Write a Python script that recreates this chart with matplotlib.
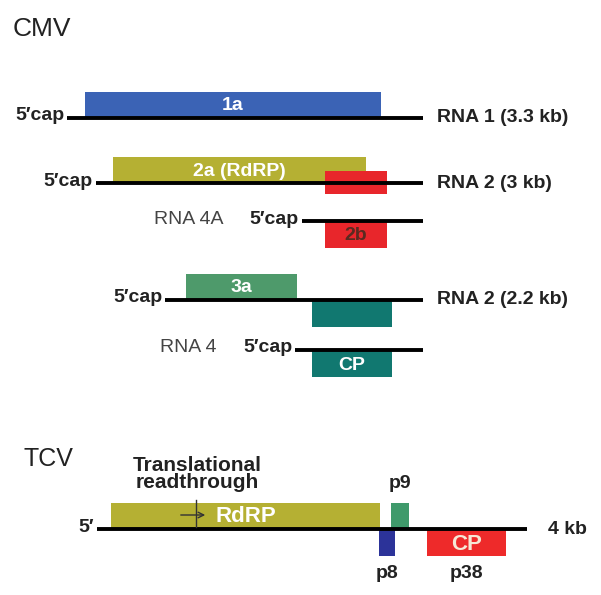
import matplotlib.pyplot as plt
from matplotlib.patches import Rectangle

plt.rcParams['font.family'] = ['Liberation Sans', 'DejaVu Sans']

# CMV genomic / subgenomic RNAs
rna_names = ['RNA 1 (3.3 kb)', 'RNA 2 (3 kb)', 'RNA 4A', 'RNA 2 (2.2 kb)', 'RNA 4']
rna_start = [67, 96, 302, 165, 295]
rna_end = [423, 423, 423, 423, 423]

# CMV ORFs (row index into the RNAs, start, end, frame: 1 above, 0 across, -1 below)
orf_names = ['1a', '2a (RdRP)', '', '2b', '3a', '', 'CP']
orf_rna = [0, 1, 1, 2, 3, 3, 4]
orf_start = [85, 113, 325, 325, 186, 312, 312]
orf_end = [381, 366, 387, 387, 297, 392, 392]
orf_frame = [1, 1, 0, -1, 1, -1, -1]
orf_colors = ['#3B63B5', '#B5B033', '#E8262B', '#E8262B', '#4E9A6B', '#117870', '#117870']
orf_text = ['white', 'white', 'white', '#5A2A20', 'white', 'white', 'white']

# TCV genome
tcv_start, tcv_end = 97, 527
tcv_names = ['RdRP', '', '', 'CP']
tcv_tags = ['', 'p9', 'p8', 'p38']
tcv_orf_start = [111, 391, 379, 427]
tcv_orf_end = [380, 409, 395, 506]
tcv_frame = [1, 1, -1, -1]
tcv_colors = ['#B5B033', '#3F9A6B', '#2C3399', '#EE2A2A']
tcv_text = ['white', 'white', 'white', '#F6E8D6']

row_y = [118, 183, 221, 300, 350]
tcv_y = 529
box_h = 26
dark = '#222222'
fs = 14

fig = plt.figure(figsize=(6.01, 5.95), dpi=100)
ax = fig.add_axes([0, 0, 1, 1])
ax.set_xlim(0, 601)
ax.set_ylim(595, 0)
ax.axis('off')


def box(x0, x1, y, frame, color, label, tcolor, size=14, h=box_h):
    if frame == 1:
        top = y - h
    elif frame == -1:
        top = y + 1
    else:
        h = 23
        top = y - 12
    ax.add_patch(Rectangle((x0, top), x1 - x0, h, color=color, lw=0, zorder=1))
    if label:
        ax.text((x0 + x1) / 2, top + h / 2 + 1, label, color=tcolor, fontsize=size,
                fontweight='bold', ha='center', va='center', zorder=3)


ax.text(13, 29, 'CMV', fontsize=19, color=dark, va='center')
ax.text(24, 459, 'TCV', fontsize=18, color=dark, va='center')

for i, name in enumerate(rna_names):
    y = row_y[i]
    ax.plot([rna_start[i], rna_end[i]], [y, y], color='black', lw=2.8,
            solid_capstyle='butt', zorder=2)
    ax.text(rna_start[i] - 3, y - 2, '5\u2032cap', fontsize=fs, fontweight='bold',
            color=dark, ha='right', va='center')
    if i in (2, 4):
        ax.text(rna_start[i] - 78, y - 2, name, fontsize=fs, color='#444444',
                ha='right', va='center')
    else:
        ax.text(437, y, name, fontsize=fs, fontweight='bold', color=dark,
                ha='left', va='center')

for i in range(len(orf_names)):
    box(orf_start[i], orf_end[i], row_y[orf_rna[i]], orf_frame[i], orf_colors[i],
        orf_names[i], orf_text[i])

# TCV
ax.plot([tcv_start, tcv_end], [tcv_y, tcv_y], color='black', lw=2.8,
        solid_capstyle='butt', zorder=2)
ax.text(tcv_start - 3, tcv_y - 2, '5\u2032', fontsize=fs, fontweight='bold',
        color=dark, ha='right', va='center')
ax.text(548, tcv_y, '4 kb', fontsize=fs, fontweight='bold', color=dark,
        ha='left', va='center')
for i in range(len(tcv_names)):
    box(tcv_orf_start[i], tcv_orf_end[i], tcv_y, tcv_frame[i], tcv_colors[i],
        tcv_names[i], tcv_text[i], size=16)
    xc = (tcv_orf_start[i] + tcv_orf_end[i]) / 2
    if tcv_frame[i] == 1 and tcv_tags[i]:
        ax.text(xc, 483, tcv_tags[i], fontsize=fs, fontweight='bold', color=dark,
                ha='center', va='center')
    elif tcv_tags[i]:
        ax.text(xc, 574, tcv_tags[i], fontsize=fs, fontweight='bold', color=dark,
                ha='center', va='center')

ax.text(197, 474, 'Translational\nreadthrough', fontsize=15, fontweight='bold',
        color=dark, ha='center', va='center', linespacing=0.9)
ax.plot([196, 196], [500, 527], color='#333333', lw=1, zorder=3)
ax.annotate('', xy=(208, 515), xytext=(178, 515),
            arrowprops=dict(arrowstyle='->', color='#333333', lw=1), zorder=3)

fig.savefig('out.png', dpi=100)
